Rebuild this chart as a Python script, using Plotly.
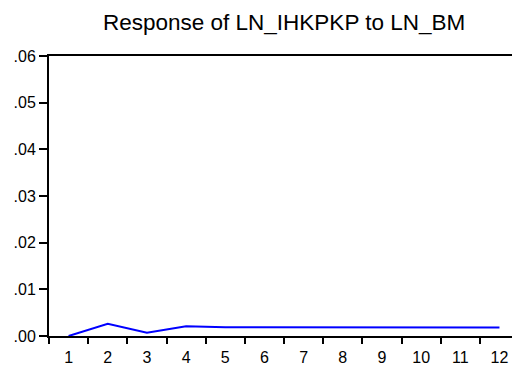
import plotly.graph_objects as go

periods = ["1", "2", "3", "4", "5", "6", "7", "8", "9", "10", "11", "12"]
response = [0.0, 0.0026, 0.0007, 0.0021, 0.0019, 0.0019, 0.0018, 0.0018, 0.0018, 0.0019, 0.0018, 0.0018]
y_tickvals = [0.0, 0.01, 0.02, 0.03, 0.04, 0.05, 0.06]
y_ticktext = [".00", ".01", ".02", ".03", ".04", ".05", ".06"]
title = "Response of LN_IHKPKP to LN_BM"

W, H = 512, 365
L, T, B = 49, 56, 29
PW, PH = W - L, H - T - B

fig = go.Figure()
fig.add_trace(go.Scatter(x=periods, y=response, mode="lines",
                         line=dict(color="#0000FF", width=2)))

fig.update_layout(
    width=W, height=H,
    margin=dict(l=L, r=0, t=T, b=B, autoexpand=False),
    paper_bgcolor="white", plot_bgcolor="white",
    showlegend=False,
    font=dict(family="Liberation Sans, Arial, sans-serif", color="black", size=16),
    annotations=[dict(text=title, xref="paper", yref="paper",
                      x=(284 - L) / PW, y=1 + (T - 22) / PH,
                      xanchor="center", yanchor="middle",
                      showarrow=False, font=dict(size=22.5))],
)

fig.update_xaxes(type="category", range=[-0.5, 11.32], tickson="boundaries",
                 ticks="outside", ticklen=6, tickwidth=2, tickcolor="black",
                 ticklabelstandoff=6,
                 showline=True, linewidth=2, linecolor="black", mirror=True,
                 showgrid=False, zeroline=False, tickfont=dict(size=16))
fig.update_yaxes(range=[0, 0.06], tickvals=y_tickvals, ticktext=y_ticktext,
                 ticks="outside", ticklen=8, tickwidth=2, tickcolor="black",
                 showline=True, linewidth=2, linecolor="black",
                 showgrid=False, zeroline=False, tickfont=dict(size=16))

fig.write_html("out.html", config={"displayModeBar": False},
               post_script="document.body.style.margin='0';document.body.style.overflow='hidden';")
